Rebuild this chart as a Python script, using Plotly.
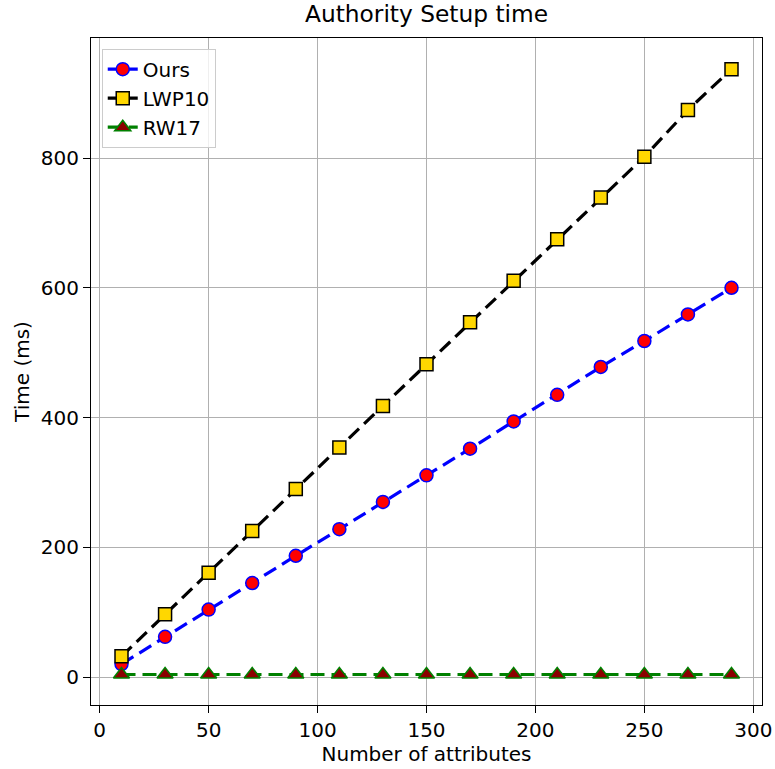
import plotly.graph_objects as go

attributes = [10, 30, 50, 70, 90, 110, 130, 150, 170, 190, 210, 230, 250, 270, 290]
ours = [20, 62, 104, 145, 187, 228, 270, 311, 352, 394, 435, 478, 518, 559, 600]
lwp10 = [32, 97, 161, 225, 290, 354, 418, 482, 547, 611, 675, 739, 802, 874, 937]
rw17 = [4, 4, 4, 4, 4, 4, 4, 4, 4, 4, 4, 4, 4, 4, 4]

font = "DejaVu Sans"
fig = go.Figure()
fig.add_trace(go.Scatter(x=attributes, y=ours, name="Ours", mode="lines+markers",
                         line=dict(color="blue", width=3.2, dash="14px,7px"),
                         marker=dict(symbol="circle", size=13, color="red",
                                     line=dict(color="blue", width=1.5))))
fig.add_trace(go.Scatter(x=attributes, y=lwp10, name="LWP10", mode="lines+markers",
                         line=dict(color="black", width=3.2, dash="14px,7px"),
                         marker=dict(symbol="square", size=13, color="gold",
                                     line=dict(color="black", width=1.5))))
fig.add_trace(go.Scatter(x=attributes, y=rw17, name="RW17", mode="lines+markers",
                         line=dict(color="green", width=3.2, dash="14px,7px"),
                         marker=dict(symbol="triangle-up", size=14, color="darkred",
                                     line=dict(color="green", width=1.5))))

axis_common = dict(showline=True, linecolor="black", linewidth=1.2, mirror=True,
                   ticks="outside", ticklen=7, tickcolor="black", automargin=False,
                   ticklabeloverflow="allow",
                   showgrid=True, gridcolor="#b0b0b0", gridwidth=1, zeroline=False,
                   tickfont=dict(family=font, size=20, color="black"))

fig.update_layout(
    width=775, height=769,
    paper_bgcolor="white", plot_bgcolor="white",
    margin=dict(l=91, r=13, t=38, b=64),
    title=dict(text="Authority Setup time", x=0.5, xref="paper", xanchor="center",
               y=0.993, yanchor="top",
               font=dict(family=font, size=23.3, color="black")),
    font=dict(family=font, color="black"),
    xaxis=dict(range=[-4, 304], tickvals=[0, 50, 100, 150, 200, 250, 300],
               title=dict(text="Number of attributes", font=dict(family=font, size=20), standoff=2),
               **axis_common),
    yaxis=dict(range=[-43, 985], tickvals=[0, 200, 400, 600, 800],
               title=dict(text="Time (ms)", font=dict(family=font, size=20), standoff=5),
               **axis_common),
    legend=dict(x=0.016, y=0.984, xanchor="left", yanchor="top",
                bgcolor="rgba(255,255,255,0.8)", bordercolor="#cccccc", borderwidth=1,
                font=dict(family=font, size=20, color="black"), itemwidth=30,
                tracegroupgap=2),
    showlegend=True,
)

fig.write_html("out.html", config={"displayModeBar": False},
               post_script="document.body.style.margin='0';document.body.style.overflow='hidden';")
